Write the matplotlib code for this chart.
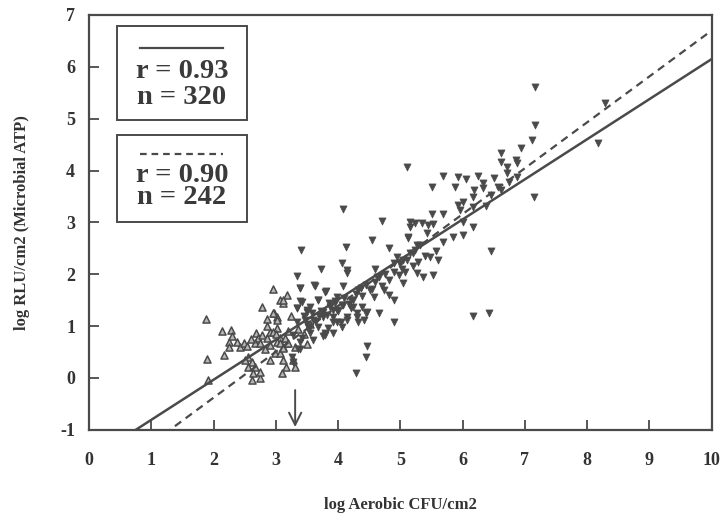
import numpy as np
import matplotlib.pyplot as plt
from matplotlib.patches import Rectangle

plt.rcParams['font.family'] = ['Liberation Serif', 'DejaVu Serif']
plt.rcParams['font.weight'] = 'bold'
plt.rcParams['axes.unicode_minus'] = False

# low-count samples (open up-triangles)
up_x = [1.88, 2.14, 2.28, 1.90, 2.17, 1.91, 2.25, 2.25, 2.38, 2.43, 2.49, 2.54,
        2.68, 2.78, 2.86, 2.96, 2.97, 3.07, 3.12, 3.18, 3.02, 2.72, 2.78, 2.86,
        2.67, 2.91, 3.02, 2.56, 2.62, 2.67, 2.56, 2.64, 2.62, 2.75, 2.75, 2.91,
        2.99, 3.07, 3.12, 3.17, 3.10, 3.12, 3.18, 3.07, 3.15, 3.02, 3.28, 3.31,
        2.83, 2.91, 2.75, 2.51, 2.96, 3.02, 2.96, 3.07, 3.20, 3.12, 3.12, 3.25,
        3.35, 3.45, 3.55, 3.30, 3.50, 2.30, 2.60, 2.85, 3.00, 3.20]
up_y = [1.14, 0.91, 0.93, 0.37, 0.45, -0.03, 0.70, 0.60, 0.70, 0.60, 0.68, 0.62,
        0.87, 1.37, 1.14, 1.72, 1.26, 1.51, 1.45, 1.60, 1.18, 0.78, 0.82, 0.78,
        0.68, 0.89, 0.97, 0.41, 0.31, 0.22, 0.22, 0.10, -0.03, -0.01, 0.12, 0.35,
        0.49, 0.49, 0.35, 0.22, 0.10, 0.60, 0.68, 0.78, 0.78, 0.70, 0.35, 0.22,
        0.55, 0.64, 0.68, 0.35, 0.89, 1.12, 1.26, 0.68, 0.68, 0.58, 1.51, 1.20,
        0.95, 0.85, 1.05, 0.60, 0.65, 0.80, 0.75, 1.00, 0.85, 0.90]

# remaining samples (filled down-triangles)
down_x = [4.08, 4.71, 4.55, 3.41, 4.13, 3.73, 3.34, 4.07, 4.15, 3.39, 3.63, 3.81,
          4.08, 3.39, 3.68, 3.34, 3.50, 3.76, 3.92, 4.07, 3.55, 3.79, 3.36, 3.28,
          4.47, 4.45, 4.29, 4.89, 4.65, 4.60, 4.82, 5.03, 5.13, 5.16, 5.24, 5.05,
          4.81, 4.73, 4.81, 4.89, 4.57, 4.39, 4.44, 4.31, 4.20, 4.24, 4.32, 4.08,
          3.99, 3.92, 4.15, 4.95, 5.05, 5.16, 5.24, 5.27, 4.89, 4.65,
          7.17, 7.17, 7.12, 7.14, 6.93, 6.61, 6.62, 6.72, 6.85, 6.88, 5.10, 5.68,
          5.92, 6.06, 6.24, 6.50, 6.72, 5.51, 5.87, 6.19, 6.32, 6.33, 6.56, 6.61,
          6.74, 6.88, 6.17, 6.45, 6.01, 5.93, 5.96, 6.16, 6.37, 5.51, 5.68, 5.16,
          5.35, 5.45, 5.53, 6.00, 6.16, 5.13, 5.43, 5.68, 5.84, 6.00, 5.32, 5.21,
          5.48, 5.61, 6.45, 5.08, 5.27, 5.37, 5.53, 5.11, 5.29, 8.28, 8.17, 6.17,
          6.43, 3.62, 3.79, 4.15, 4.36, 4.52, 4.63, 3.42, 3.68, 3.34, 3.55, 3.87,
          3.99, 4.07, 4.24, 4.31, 4.47, 4.41, 4.32, 4.15, 3.99, 3.92, 3.76, 3.60,
          3.47, 3.34, 3.52, 3.68, 3.84, 4.04, 3.91, 3.76, 3.60, 3.42, 3.28, 3.55,
          3.79, 3.39, 3.26, 3.38, 3.50, 3.39, 3.70, 3.95, 4.20,
          3.45, 3.58, 3.72, 3.85, 3.95, 4.10, 4.28, 4.45, 4.60, 4.75, 4.90, 5.00,
          3.50, 3.65, 3.82, 4.00, 4.18, 4.38, 4.55, 4.70, 4.98, 5.20, 5.40, 5.58]
down_y = [3.26, 3.03, 2.66, 2.47, 2.53, 2.11, 1.97, 2.22, 2.09, 1.74, 1.78, 1.68,
          1.78, 1.49, 1.51, 1.35, 1.28, 1.28, 1.07, 0.99, 0.99, 0.82, 0.55, 0.31,
          0.62, 0.41, 0.10, 1.08, 1.26, 2.11, 2.51, 2.11, 2.70, 2.91, 2.99, 1.84,
          1.89, 1.70, 1.60, 1.51, 1.57, 1.37, 1.26, 1.18, 1.35, 1.51, 1.70, 1.41,
          1.57, 1.32, 1.18, 2.34, 2.28, 2.41, 2.47, 2.57, 2.22, 1.95,
          5.61, 4.88, 4.59, 3.49, 4.44, 4.34, 4.17, 4.07, 4.21, 4.15, 4.07, 3.90,
          3.88, 3.84, 3.90, 3.86, 3.96, 3.69, 3.69, 3.63, 3.76, 3.67, 3.69, 3.63,
          3.78, 3.88, 3.49, 3.53, 3.40, 3.34, 3.24, 3.30, 3.32, 3.17, 3.17, 3.01,
          2.99, 2.95, 2.97, 3.01, 2.91, 2.72, 2.80, 2.63, 2.72, 2.76, 2.57, 2.41,
          2.34, 2.28, 2.45, 2.05, 2.03, 1.95, 1.99, 2.28, 2.24, 5.30, 4.53, 1.20,
          1.26, 1.80, 1.66, 2.03, 1.74, 1.70, 1.95, 1.47, 1.51, 1.34, 1.36, 1.37,
          1.32, 1.41, 1.37, 1.26, 1.28, 1.12, 1.07, 1.12, 1.07, 1.18, 1.18, 1.12,
          1.12, 1.07, 0.99, 0.99, 0.97, 1.07, 0.87, 0.80, 0.74, 0.78, 0.83, 0.87,
          0.87, 0.55, 0.41, 1.74, 1.32, 0.70, 1.20, 1.45, 1.50,
          1.20, 1.25, 1.30, 1.45, 1.48, 1.55, 1.62, 1.80, 1.85, 2.00, 2.05, 2.20,
          1.05, 1.10, 1.22, 1.30, 1.42, 1.58, 1.72, 1.78, 1.98, 2.15, 2.35, 2.45]

# regression lines: (slope, intercept), r, n
fits = {'solid': (0.773, -1.58), 'dashed': (0.885, -2.15)}
r_vals = ['0.93', '0.90']
n_vals = ['320', '242']
arrow_x = 3.31

ink = '#4a4a4a'
fig = plt.figure(figsize=(7.24, 5.16), dpi=100)
ax = fig.add_axes([0.123, 0.167, 0.860, 0.804])

ax.scatter(up_x, up_y, marker='^', s=26, facecolor='#b8b8b8', edgecolor=ink,
           linewidth=1.1, zorder=2)
ax.scatter(down_x, down_y, marker='v', s=26, facecolor=ink, edgecolor=ink,
           linewidth=0.5, zorder=2)

xs = np.linspace(0, 10, 200)
m, b = fits['solid']
ax.plot(xs, m * xs + b, color=ink, lw=1.8, zorder=3)
m, b = fits['dashed']
ax.plot(xs, m * xs + b, color=ink, lw=1.6, ls=(0, (3.5, 2.5)), zorder=3)

ax.annotate('', xy=(arrow_x, -1), xytext=(arrow_x, -0.18),
            arrowprops=dict(arrowstyle='->', color=ink, lw=1.4,
                            mutation_scale=22))

ax.set_xlim(0, 10)
ax.set_ylim(-1, 7)
ax.set_xticks(range(0, 11))
ax.set_yticks(range(-1, 8))
ax.tick_params(direction='in', length=7, width=1.3, color=ink, labelcolor='#333',
               labelsize=13, pad=16)
ax.tick_params(axis='y', pad=10)
for lab in ax.get_xticklabels() + ax.get_yticklabels():
    lab.set_fontweight('bold')
for sp in ax.spines.values():
    sp.set_color(ink)
    sp.set_linewidth(1.6)

ax.set_xlabel('log Aerobic CFU/cm2', fontsize=12, fontweight='bold',
              color='#333', labelpad=20)
ax.set_ylabel('log RLU/cm2 (Microbial ATP)', fontsize=12, fontweight='bold',
              color='#333', labelpad=22)

# hand-drawn legend boxes
boxes = [(0.747, 0.226, '-', 0.920, 0.863, 0.802),
         (0.501, 0.210, (0, (3, 2.2)), 0.665, 0.614, 0.559)]
for i, (y0, h, ls, ly, ry, ny) in enumerate(boxes):
    ax.add_patch(Rectangle((0.045, y0), 0.209, h, transform=ax.transAxes,
                           fill=False, edgecolor=ink, lw=1.4, zorder=4))
    ax.plot([0.082, 0.215], [ly, ly], transform=ax.transAxes, color=ink,
            lw=1.6, ls=ls, zorder=4)
    ax.text(0.149, ry, 'r = ' + r_vals[i], transform=ax.transAxes, ha='center',
            va='center', fontsize=20.5, fontweight='bold', color='#3a3a3a')
    ax.text(0.149, ny, 'n = ' + n_vals[i], transform=ax.transAxes, ha='center',
            va='center', fontsize=20.5, fontweight='bold', color='#3a3a3a')

fig.savefig('out.png', dpi=100, facecolor='white')
